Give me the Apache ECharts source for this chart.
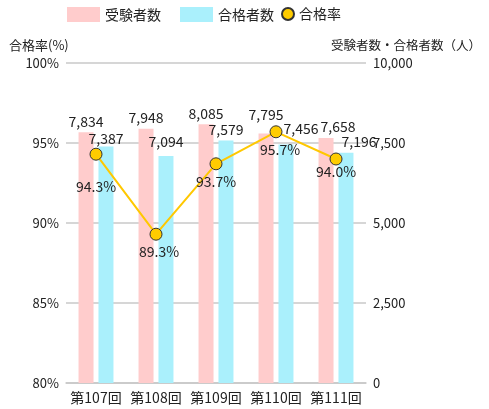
<!DOCTYPE html>
<html>
<head>
<meta charset="utf-8">
<script src="https://cdn.jsdelivr.net/npm/echarts@6/dist/echarts.min.js"></script>
<style>
  html, body { margin: 0; padding: 0; background: #fff; }
  #chart { width: 489px; height: 409px; }
</style>
</head>
<body>
<div id="chart"></div>
<script>
var categories = ['第107回', '第108回', '第109回', '第110回', '第111回'];
var examinees = [7834, 7948, 8085, 7795, 7658];   // 受験者数
var passers = [7387, 7094, 7579, 7456, 7196];     // 合格者数
var passRate = [94.3, 89.3, 93.7, 95.7, 94.0];    // 合格率 (%)

var rateTicks = { min: 80, max: 100, interval: 5 };
var countTicks = { min: 0, max: 10000, interval: 2500 };

// ラベルの位置ずらし（重なり回避分）
var examLabelShift = [[0, 0], [0, 0], [0, 0], [0, -8], [12, 0]];
var passLabelShift = [[0, 3], [0, -3], [0, 0], [15, -5], [13, 0]];
var rateLabelShift = [[0, 15], [3, 0], [0, 0], [4, 0], [0, -5]];

var FONT = '"Noto Sans CJK JP", "Noto Sans", sans-serif';
var TEXT = '#222';

function withShift(values, shifts) {
  return values.map(function (v, i) {
    return { value: v, label: { offset: shifts[i] } };
  });
}

var chart = echarts.init(document.getElementById('chart'));
chart.setOption({
  backgroundColor: '#fff',
  textStyle: { fontFamily: FONT, color: TEXT },
  animation: false,
  title: [
    { text: '合格率(%)', left: 4, top: 34,
      textStyle: { fontSize: 13, fontWeight: 'normal', color: TEXT, fontFamily: FONT } },
    { text: '受験者数・合格者数（人）', right: 3, top: 34,
      textStyle: { fontSize: 12.5, fontWeight: 'normal', color: TEXT, fontFamily: FONT } }
  ],
  legend: [
    {
      left: 62, top: 2,
      itemWidth: 33, itemHeight: 15, itemGap: 19,
      icon: 'rect',
      data: ['受験者数', '合格者数'],
      textStyle: { fontSize: 14, color: TEXT, fontFamily: FONT }
    },
    {
      left: 276, top: 2,
      itemWidth: 12, itemHeight: 12,
      icon: 'circle',
      data: ['合格率'],
      textStyle: { fontSize: 14, color: TEXT, fontFamily: FONT }
    }
  ],
  grid: { left: 66, right: 123, top: 63, bottom: 26 },
  xAxis: {
    type: 'category',
    data: categories,
    axisTick: { show: false },
    axisLine: { lineStyle: { color: '#c8c8c8', width: 1.5 } },
    axisLabel: { interval: 0, fontSize: 14, color: TEXT, margin: 8 }
  },
  yAxis: [
    {
      type: 'value',
      min: rateTicks.min, max: rateTicks.max, interval: rateTicks.interval,
      axisLine: { show: false },
      axisTick: { show: false },
      axisLabel: { formatter: '{value}%', fontSize: 13, color: TEXT, margin: 7 },
      splitLine: { lineStyle: { color: '#c8c8c8', width: 1.5 } }
    },
    {
      type: 'value',
      min: countTicks.min, max: countTicks.max, interval: countTicks.interval,
      axisLine: { show: false },
      axisTick: { show: false },
      axisLabel: {
        fontSize: 13, color: TEXT, margin: 7,
        formatter: function (v) { return v.toLocaleString('en-US'); }
      },
      splitLine: { show: false }
    }
  ],
  series: [
    {
      name: '受験者数',
      type: 'bar',
      yAxisIndex: 1,
      barWidth: 15,
      barGap: '33%',
      itemStyle: { color: '#ffcccc' },
      label: {
        show: true, position: 'top', distance: 4, fontSize: 14, color: TEXT,
        formatter: function (p) { return p.value.toLocaleString('en-US'); }
      },
      data: withShift(examinees, examLabelShift)
    },
    {
      name: '合格者数',
      type: 'bar',
      yAxisIndex: 1,
      barWidth: 15,
      itemStyle: { color: '#aaf0fc' },
      label: {
        show: true, position: 'top', distance: 4, fontSize: 14, color: TEXT,
        formatter: function (p) { return p.value.toLocaleString('en-US'); }
      },
      data: withShift(passers, passLabelShift)
    },
    {
      name: '合格率',
      type: 'line',
      yAxisIndex: 0,
      symbol: 'circle',
      symbolSize: 12,
      lineStyle: { color: '#ffc800', width: 2 },
      itemStyle: { color: '#ffcc00', borderColor: '#333', borderWidth: 1 },
      label: {
        show: true, position: 'bottom', distance: 4, fontSize: 14, color: TEXT,
        formatter: function (p) { return p.value.toFixed(1) + '%'; }
      },
      data: withShift(passRate, rateLabelShift),
      z: 5
    }
  ]
});
</script>
</body>
</html>
